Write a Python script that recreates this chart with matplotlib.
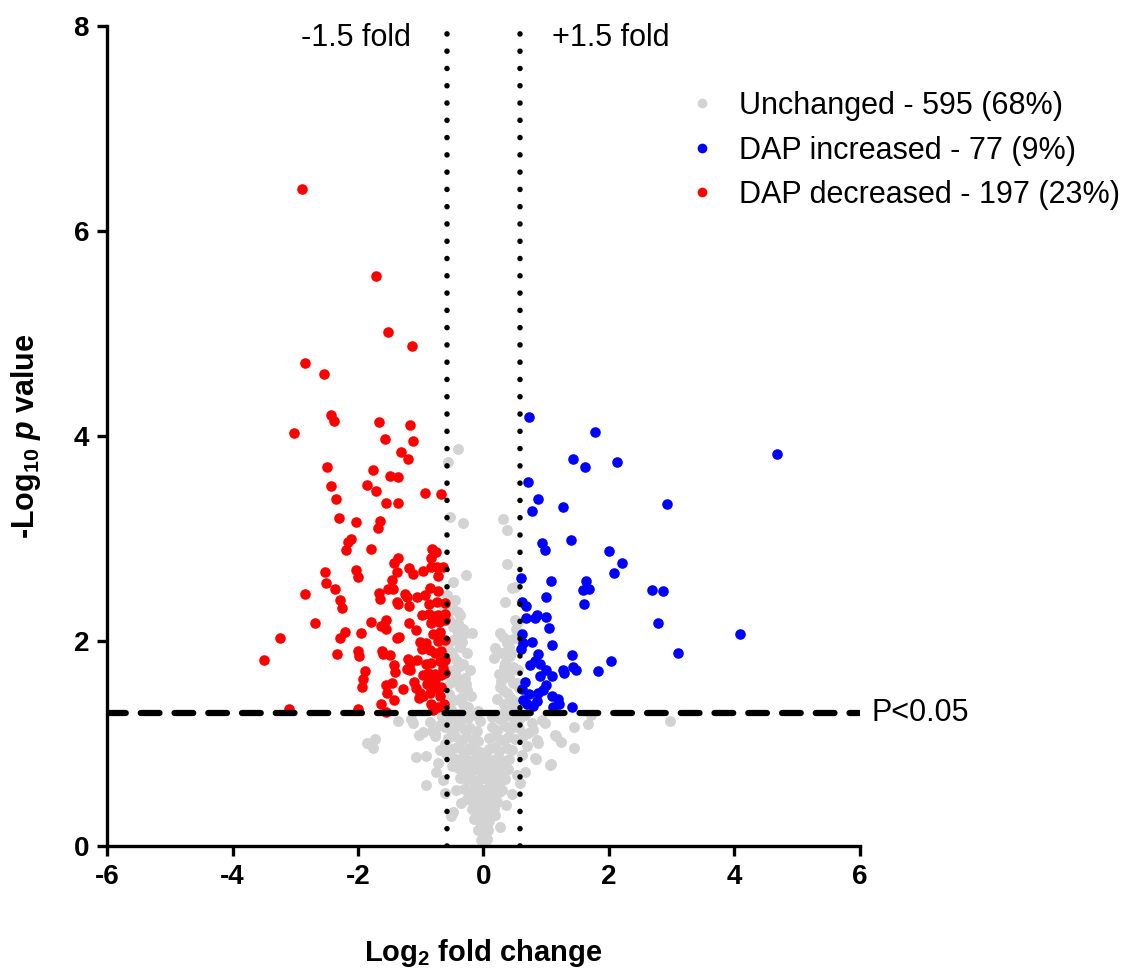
import matplotlib
matplotlib.use("Agg")
import matplotlib.pyplot as plt
from matplotlib.lines import Line2D

plt.rcParams['font.family'] = ['Liberation Sans', 'DejaVu Sans']
plt.rcParams['axes.unicode_minus'] = False
plt.rcParams['mathtext.fontset'] = 'custom'
plt.rcParams['mathtext.rm'] = 'Liberation Sans:bold'
plt.rcParams['mathtext.it'] = 'Liberation Sans:bold:italic'
plt.rcParams['mathtext.bf'] = 'Liberation Sans:bold'

# values (log2 fold change, -log10 p)
red_x = [-2.90, -1.72, -1.52, -1.14, -2.85, -2.55, -2.43, -2.39, -1.66, -1.17, -3.02, -1.57, -1.13,
         -1.32, -1.21, -2.50, -1.76, -1.49, -1.37, -2.43, -1.86, -1.72, -0.93, -0.68, -2.35, -1.55,
         -1.37, -2.30, -2.03, -1.65, -1.68, -2.11, -2.16, -2.19, -1.80, -0.82, -0.76, -1.37, -1.42,
         -0.84, -0.84, -0.74, -0.64, -1.38, -1.19, -1.13, -0.96, -0.73, -2.52, -2.04, -2.00, -2.51,
         -1.46, -1.52, -1.45, -2.37, -0.85, -0.73, -1.67, -1.65, -2.85, -2.28, -2.26, -1.25, -1.22,
         -1.06, -0.94, -1.38, -1.36, -1.19, -0.87, -0.74, -0.61, -2.69, -1.80, -1.56, -1.63, -1.55,
         -1.19, -1.08, -0.98, -0.87, -0.77, -0.72, -0.61, -0.84, -0.71, -0.61, -2.20, -2.29, -1.96,
         -3.24, -1.38, -1.35, -0.81, -0.69, -1.01, -0.91, -0.73, -0.61, -2.33, -2.00, -1.99, -1.62,
         -1.60, -1.49, -3.50, -1.21, -1.17, -1.06, -0.98, -0.85, -0.77, -0.67, -0.92, -0.83, -0.69,
         -0.61, -1.43, -1.41, -1.89, -1.22, -1.17, -1.92, -1.93, -1.56, -1.46, -0.96, -0.88, -0.78,
         -0.68, -0.61, -1.28, -1.07, -1.01, -0.96, -0.85, -0.77, -0.67, -1.54, -1.64, -1.43, -1.56,
         -3.10, -2.00, -0.83, -0.72, -0.63, -0.69, -0.77, -0.85, -1.11, -0.90, -0.65, -1.03, -0.80]
red_y = [6.41, 5.56, 5.02, 4.88, 4.71, 4.61, 4.21, 4.15, 4.14, 4.11, 4.03, 3.97, 3.95,
         3.84, 3.78, 3.70, 3.67, 3.61, 3.60, 3.51, 3.52, 3.46, 3.44, 3.43, 3.39, 3.35,
         3.35, 3.20, 3.16, 3.17, 3.10, 3.00, 2.97, 2.89, 2.90, 2.90, 2.87, 2.81, 2.76,
         2.81, 2.72, 2.72, 2.72, 2.67, 2.71, 2.65, 2.68, 2.63, 2.67, 2.69, 2.62, 2.57,
         2.60, 2.51, 2.51, 2.51, 2.52, 2.49, 2.47, 2.41, 2.46, 2.40, 2.32, 2.46, 2.43,
         2.43, 2.45, 2.38, 2.36, 2.34, 2.36, 2.38, 2.37, 2.18, 2.19, 2.20, 2.15, 2.12,
         2.18, 2.11, 2.25, 2.26, 2.24, 2.25, 2.26, 2.18, 2.19, 2.20, 2.09, 2.03, 2.08,
         2.03, 2.03, 2.04, 2.07, 2.09, 1.99, 1.98, 2.00, 2.01, 1.87, 1.90, 1.85, 1.90,
         1.87, 1.86, 1.81, 1.82, 1.79, 1.81, 1.92, 1.91, 1.88, 1.90, 1.78, 1.79, 1.80,
         1.81, 1.77, 1.70, 1.71, 1.73, 1.72, 1.63, 1.55, 1.57, 1.59, 1.67, 1.69, 1.68,
         1.67, 1.69, 1.53, 1.54, 1.49, 1.46, 1.49, 1.54, 1.55, 1.49, 1.39, 1.42, 1.31,
         1.34, 1.34, 1.39, 1.36, 1.39, 1.46, 1.62, 1.62, 1.60, 1.58, 1.74, 1.44, 1.33]

blue_x = [0.73, 1.77, 4.68, 1.42, 1.62, 2.13, 0.71, 0.87, 0.77, 1.27, 2.92, 1.40, 0.94, 0.98,
          2.00, 2.20, 2.08, 0.60, 1.08, 1.63, 1.59, 1.68, 2.68, 2.86, 1.00, 1.60, 0.61, 0.67,
          2.78, 0.68, 0.82, 0.85, 0.99, 1.04, 4.09, 0.61, 0.77, 0.63, 0.60, 1.09, 3.10, 1.41,
          0.87, 0.74, 0.82, 0.90, 1.00, 0.90, 1.09, 1.27, 1.29, 1.43, 1.47, 1.83, 2.03, 0.99,
          0.62, 0.87, 1.09, 1.18, 1.21, 0.63, 0.69, 0.79, 0.85, 1.11, 1.41, 0.66, 0.95, 0.72]
blue_y = [4.19, 4.04, 3.82, 3.78, 3.70, 3.75, 3.55, 3.39, 3.27, 3.31, 3.34, 2.99, 2.96, 2.89,
          2.88, 2.76, 2.66, 2.61, 2.59, 2.59, 2.50, 2.51, 2.50, 2.49, 2.43, 2.36, 2.38, 2.34,
          2.18, 2.22, 2.22, 2.25, 2.23, 2.13, 2.07, 2.07, 1.99, 1.98, 1.92, 1.96, 1.88, 1.86,
          1.87, 1.77, 1.80, 1.78, 1.72, 1.66, 1.66, 1.72, 1.69, 1.75, 1.72, 1.71, 1.80, 1.57,
          1.53, 1.49, 1.46, 1.43, 1.39, 1.42, 1.39, 1.37, 1.41, 1.36, 1.36, 1.60, 1.52, 1.48]

gray_x = [-0.40, -0.56, -0.53, -0.33, 0.31, 0.37, 0.37, -0.28, -0.49, 0.45, 0.50, 0.34, -0.48,
          -0.37, 0.50, 0.55, 0.31, 0.42, 0.50, 0.40,
          -0.48, -0.40, -0.29, -0.19, -0.48, -0.37, -0.27, -0.48, -0.32, -0.22, -0.49, -0.53,
          -0.37, -0.27, -0.47, -0.32, -0.51, -0.40, -0.56, -0.43, -0.30, -0.55, -0.36, -0.44,
          -0.25, -0.52, -0.41, -0.34, -0.57, -0.45, -0.31, -0.20,
          0.26, 0.37, 0.29, 0.42, 0.32, 0.24, 0.40, 0.47, 0.26, 0.37, 0.32, 0.45, 0.26, 0.16,
          0.18, 0.47, 0.55, 0.53, 0.31, 0.42, 0.50, 0.34, 0.58, 0.21, 0.28, 0.35,
          -1.86, -1.73, -1.76, -1.36, -1.16, -1.13, -1.02, -0.96, -0.82, -0.77, -1.08, -0.92,
          -0.72, -0.75, -0.92, -0.69, -0.59, -0.77, -0.64, -0.48, -0.51, -0.70, -0.85, -0.62,
          2.97, 1.67, 1.71, 1.44, 1.16, 1.23, 1.44, 1.08, 0.83, 0.87, 0.86, 0.98, 0.93, 0.79,
          0.77, 0.71, 0.61, 0.82, 1.06, 1.14, 0.85, 0.69, 0.66, 0.58,
          -0.66, -0.54, -0.44, -0.36, -0.24, -0.14, -0.05,
          -0.61, -0.51, -0.43, -0.31, -0.21, -0.11,
          -0.57, -0.46, -0.35, -0.28, -0.17, -0.09,
          -0.51, -0.42, -0.33, -0.23, -0.16, -0.06,
          -0.47, -0.37, -0.29, -0.21, -0.13, -0.05,
          -0.41, -0.35, -0.25, -0.18, -0.11, -0.02,
          -0.37, -0.27, -0.21, -0.12, -0.06,
          -0.31, -0.22, -0.15, -0.09, -0.01,
          -0.27, -0.18, -0.12, -0.04,
          -0.19, -0.14, -0.05, 0.01,
          -0.15, -0.07, -0.02,
          -0.09, -0.03, 0.03,
          -0.04, 0.01, 0.05, 0.02,
          0.14, 0.26, 0.35, 0.49, 0.59, 0.66,
          0.13, 0.21, 0.34, 0.43, 0.56,
          0.09, 0.20, 0.30, 0.39, 0.51,
          0.08, 0.18, 0.25, 0.37, 0.45,
          0.06, 0.16, 0.23, 0.34, 0.41,
          0.05, 0.14, 0.22, 0.29, 0.39,
          0.03, 0.12, 0.18, 0.28, 0.34,
          0.04, 0.09, 0.17, 0.25, 0.30,
          0.02, 0.10, 0.14, 0.22,
          0.06, 0.12, 0.17,
          0.04, 0.09,
          0.07, 0.03,
          -0.58, -0.46, -0.63, -0.40, -0.52, -0.33, -0.60, -0.45, -0.28, -0.55, -0.38,
          -0.69, -0.62, -0.50, -0.44, -0.36, 0.52, 0.61, 0.44, 0.57, 0.48, 0.63, 0.40,
          0.54, 0.46, 0.36, 0.27, 0.19, -0.08, -0.16, 0.00, 0.05, -0.11, 0.12]
gray_y = [3.87, 3.75, 3.21, 3.15, 3.19, 3.08, 2.75, 2.64, 2.58, 2.52, 2.53, 2.38, 2.31,
          2.25, 2.20, 2.19, 2.04, 2.01, 2.03, 1.94,
          2.14, 2.08, 2.08, 2.08, 2.01, 1.94, 1.88, 1.85, 1.78, 1.72, 1.72, 1.59,
          1.55, 1.52, 1.42, 1.39, 1.33, 1.29, 1.97, 1.80, 1.64, 1.48, 1.44, 1.66,
          1.36, 1.89, 2.18, 1.99, 2.22, 1.61, 1.31, 1.46,
          2.08, 1.98, 1.88, 1.85, 1.75, 1.68, 1.65, 1.59, 1.55, 1.49, 1.39, 1.36, 1.29, 1.83,
          1.93, 1.75, 1.72, 1.59, 1.52, 1.45, 1.33, 1.30, 1.26, 1.43, 1.61, 1.79,
          1.00, 1.04, 0.96, 1.22, 1.24, 1.20, 1.08, 1.11, 1.12, 1.07, 0.87, 0.88,
          0.81, 0.72, 0.59, 0.94, 0.90, 1.10, 0.64, 0.33, 0.29, 1.18, 1.21, 0.52,
          1.22, 1.19, 1.28, 1.16, 1.07, 1.01, 0.96, 0.80, 0.85, 1.00, 1.03, 1.20, 1.23, 1.13,
          1.20, 1.10, 0.89, 0.86, 0.79, 1.08, 1.02, 0.98, 0.72, 0.61,
          1.26, 1.24, 1.27, 1.23, 1.25, 1.28, 1.22,
          1.16, 1.13, 1.17, 1.14, 1.15, 1.12,
          1.05, 1.07, 1.03, 1.06, 1.04, 1.02,
          0.95, 0.97, 0.93, 0.96, 0.94, 0.92,
          0.86, 0.84, 0.87, 0.83, 0.85, 0.82,
          0.76, 0.74, 0.77, 0.73, 0.75, 0.72,
          0.66, 0.64, 0.67, 0.63, 0.65,
          0.56, 0.54, 0.57, 0.53, 0.55,
          0.46, 0.44, 0.47, 0.43,
          0.36, 0.34, 0.37, 0.33,
          0.26, 0.24, 0.27,
          0.16, 0.14, 0.17,
          0.06, 0.04, 0.07, 0.01,
          1.26, 1.24, 1.27, 1.23, 1.25, 1.28,
          1.16, 1.13, 1.17, 1.14, 1.15,
          1.05, 1.07, 1.03, 1.06, 1.04,
          0.95, 0.97, 0.93, 0.96, 0.94,
          0.86, 0.84, 0.87, 0.83, 0.85,
          0.76, 0.74, 0.77, 0.73, 0.75,
          0.66, 0.64, 0.67, 0.63, 0.65,
          0.56, 0.54, 0.57, 0.53, 0.55,
          0.46, 0.44, 0.47, 0.43,
          0.36, 0.34, 0.37,
          0.26, 0.24,
          0.16, 0.09,
          2.45, 2.40, 2.33, 2.28, 2.19, 2.12, 1.92, 1.69, 1.58, 1.37, 1.76,
          1.34, 0.99, 0.78, 0.55, 0.42, 2.12, 1.98, 1.88, 1.54, 1.41, 1.07, 1.70,
          0.69, 0.51, 0.40, 0.18, 0.30, 1.32, 0.96, 0.10, 0.20, 0.61, 0.47]

labels = ['Unchanged - 595 (68%)', 'DAP increased - 77 (9%)', 'DAP decreased - 197 (23%)']
colors = ['#d3d3d3', '#0000ff', '#ff0000']

fc_cut = 0.585   # log2(1.5)
p_cut = 1.301    # -log10(0.05)

fig = plt.figure(figsize=(11.27, 9.69), dpi=100)
ax = fig.add_axes([0.095, 0.127, 0.668, 0.846])

ax.scatter(gray_x, gray_y, s=62, c=colors[0], linewidths=0, zorder=2)
ax.scatter(blue_x, blue_y, s=58, c=colors[1], linewidths=0, zorder=3)
ax.scatter(red_x, red_y, s=58, c=colors[2], linewidths=0, zorder=3)

for xv in (-fc_cut, fc_cut):
    ax.plot([xv, xv], [0, 8], color='black', lw=4.0, linestyle=(0, (0.01, 3.1)),
            dash_capstyle='round', zorder=4)
ax.plot([-6, 6], [p_cut, p_cut], color='black', lw=4.5, linestyle=(0, (3.0, 2.4)),
        dash_capstyle='round', zorder=4)

ax.set_xlim(-6, 6)
ax.set_ylim(0, 8)
ax.set_xticks(range(-6, 7, 2))
ax.set_yticks(range(0, 9, 2))
for s in ('top', 'right'):
    ax.spines[s].set_visible(False)
for s in ('left', 'bottom'):
    ax.spines[s].set_linewidth(2.4)
ax.tick_params(direction='out', length=7, width=2.4, labelsize=20, pad=6)
for lab in ax.get_xticklabels() + ax.get_yticklabels():
    lab.set_fontweight('bold')

ax.set_xlabel(r'Log$_2$ fold change', fontsize=21, fontweight='bold', labelpad=34)
ax.set_ylabel(r'-Log$_{10}$ $p$ value', fontsize=22, fontweight='bold', labelpad=22)

fig.text(0.316, 0.961, '-1.5 fold', fontsize=22, ha='center', va='center')
fig.text(0.542, 0.961, '+1.5 fold', fontsize=22, ha='center', va='center')
fig.text(0.773, 0.264, 'P<0.05', fontsize=22, ha='left', va='center')

handles = [Line2D([], [], marker='o', linestyle='none', markersize=7,
                  markerfacecolor=c, markeredgewidth=0) for c in colors]
fig.legend(handles, labels, loc='upper left', bbox_to_anchor=(0.597, 0.922),
           frameon=False, fontsize=22, handletextpad=0.75, labelspacing=0.48,
           handlelength=0.9, borderpad=0)

fig.savefig('out.png', dpi=100)
